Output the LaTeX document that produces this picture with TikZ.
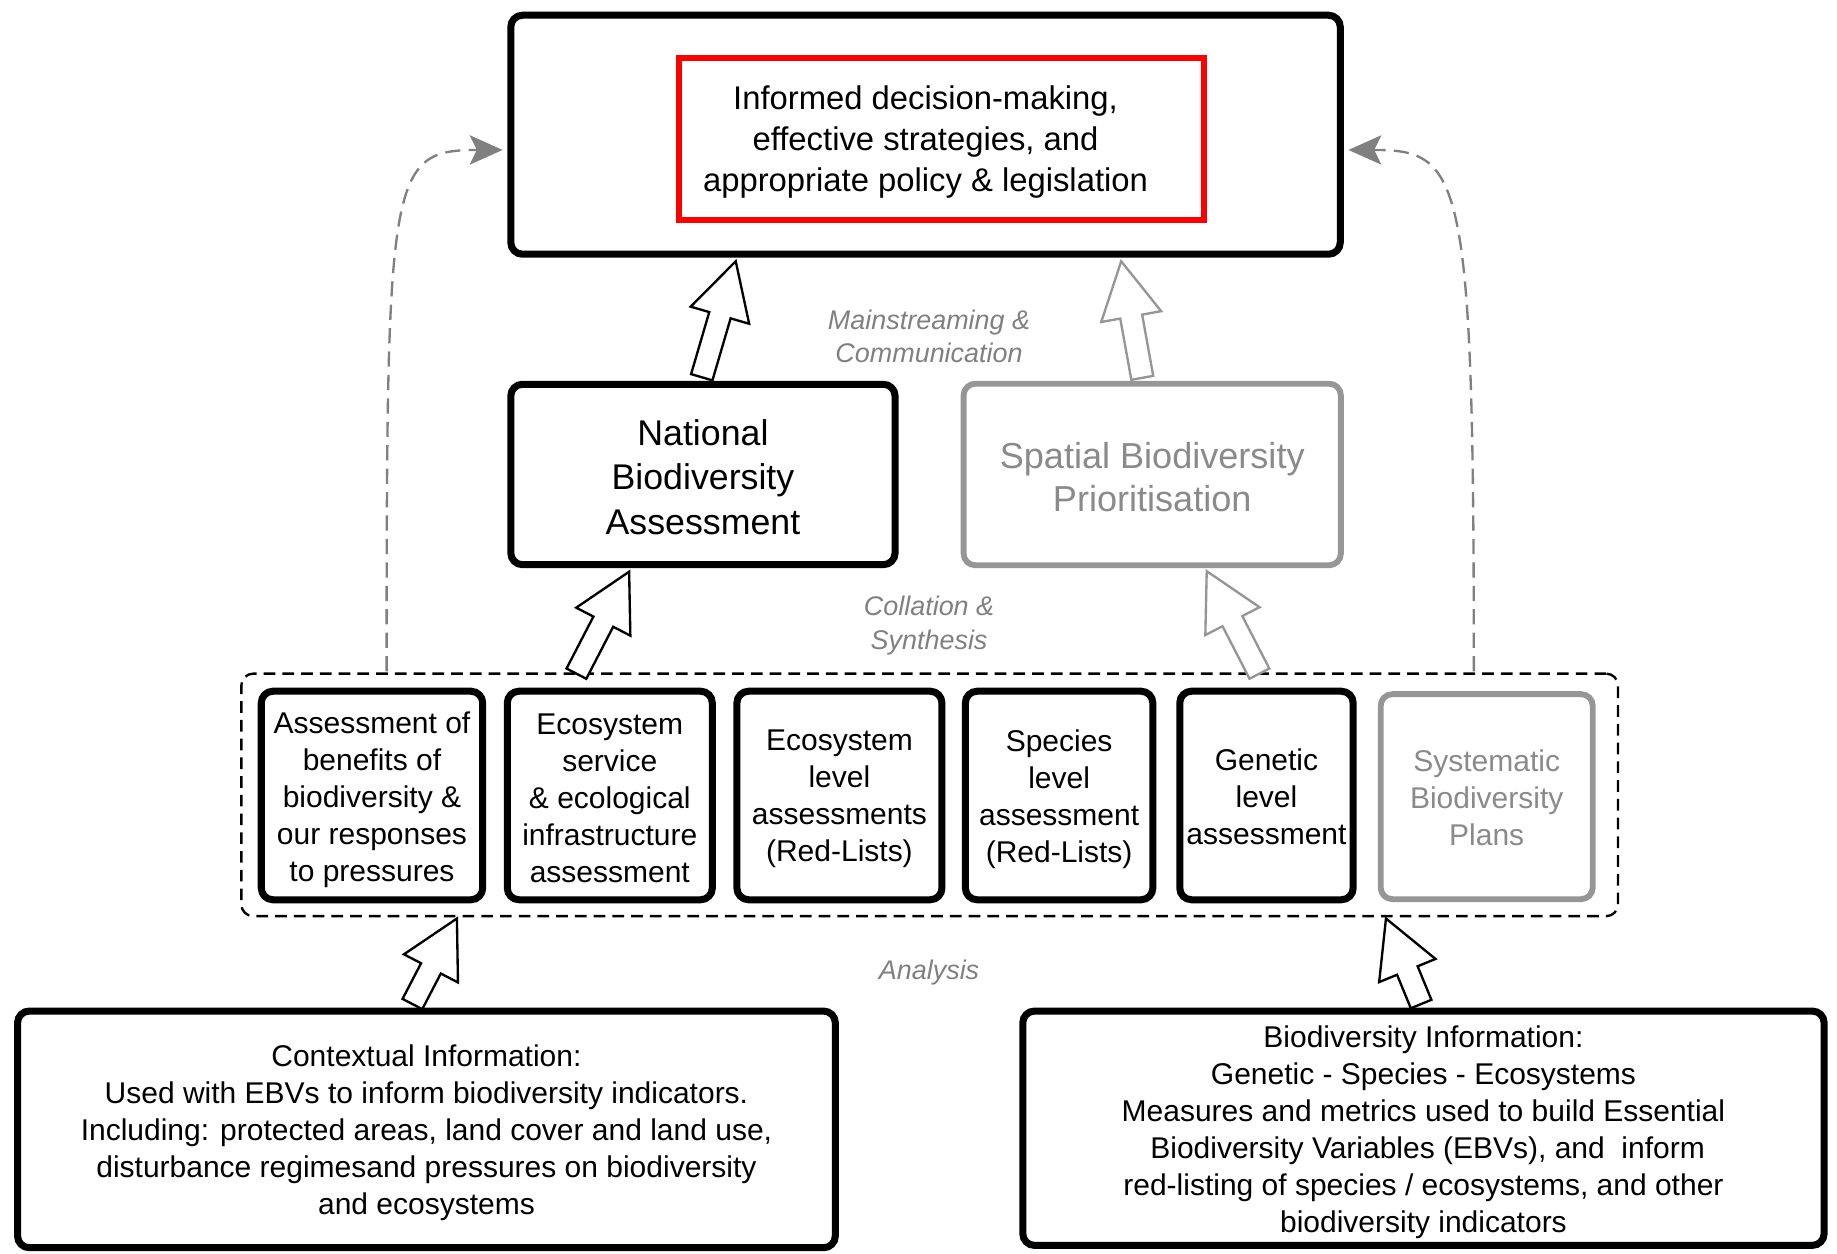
\documentclass[tikz,border=0pt]{standalone}
\usepackage{fontspec}
\setmainfont{Liberation Sans}
\usetikzlibrary{calc,arrows.meta}
\definecolor{boxgray}{RGB}{150,150,150}
\definecolor{txtgray}{RGB}{138,138,138}
\definecolor{lblgray}{RGB}{128,128,128}
\definecolor{goalred}{RGB}{255,0,0}

% hollow block arrow: #1 style, #2 base point, #3 tip point
\newcommand{\hollowarrow}[3]{%
  \path #2 coordinate (ha-b);
  \path #3 coordinate (ha-t);
  \path ($(ha-t)!48pt!(ha-b)$) coordinate (ha-h);
  \draw[#1] ($(ha-b)!9.5pt!90:(ha-t)$) -- ($(ha-h)!9.5pt!90:(ha-t)$) -- ($(ha-h)!26pt!90:(ha-t)$)
    -- (ha-t) -- ($(ha-h)!26pt!-90:(ha-t)$) -- ($(ha-h)!9.5pt!-90:(ha-t)$) -- ($(ha-b)!9.5pt!-90:(ha-t)$) -- cycle;
}

\begin{document}
\begin{tikzpicture}[x=1pt,y=-1pt,
  box/.style={draw=black, line width=6pt, rounded corners=10pt, inner sep=0pt},
  graybox/.style={box, draw=boxgray, line width=5pt},
  txt/.style={align=center, inner sep=0pt},
  gtxt/.style={txt, text=txtgray},
  smalltxt/.style={txt, font=\fontsize{25.6}{31.5}\selectfont},
  lbl/.style={font=\fontsize{23}{28.5}\selectfont\itshape, text=lblgray, align=center, inner sep=0pt},
  dashconn/.style={draw=lblgray, line width=2pt, dash pattern=on 13pt off 7pt,
     -{Stealth[length=28pt,width=25pt,inset=6pt,fill=lblgray]}},
  blk/.style={draw=black, line width=2pt, fill=white, line join=miter},
  gblk/.style={blk, draw=boxgray},
]
\useasboundingbox (0,0) rectangle (1568,1070);

% top goal box
\node[box, minimum width=708pt, minimum height=204pt] (top) at (790,115) {};
\node[draw=goalred, line width=5pt, inner sep=0pt, minimum width=448pt, minimum height=138pt] (red) at (803.5,118.5) {};
\node[txt, font=\fontsize{28}{35}\selectfont] (goal) at (790,121)
  {Informed decision-making,\\effective strategies, and\\appropriate policy \& legislation};

% middle row
\node[box, minimum width=328pt, minimum height=154pt] (nba) at (600,405) {};
\node[txt, font=\fontsize{30.5}{38}\selectfont] (nbat) at ([yshift=-2pt]nba.center)
  {National\\Biodiversity\\Assessment};
\node[graybox, minimum width=322pt, minimum height=155pt] (sbp) at (983.5,405) {};
\node[gtxt, font=\fontsize{30.8}{37}\selectfont] (sbpt) at ([yshift=-2pt]sbp.center)
  {Spatial Biodiversity\\Prioritisation};

% dashed group
\node[draw=black, line width=2pt, dash pattern=on 10pt off 6pt, rounded corners=10pt,
      minimum width=1175pt, minimum height=207pt, inner sep=0pt] (grp) at (793.5,678.5) {};

% assessment boxes
\node[box, minimum width=189pt, minimum height=178pt] (b1) at (317.5,679) {};
\node[smalltxt] (b1t) at ([yshift=-3.5pt]b1.center)
  {Assessment of\\benefits of\\biodiversity \&\\our responses\\to pressures};
\node[box, minimum width=175pt, minimum height=178pt] (b2) at (520.5,679) {};
\node[smalltxt] (b2t) at ([yshift=-2.5pt]b2.center)
  {Ecosystem\\service\\\& ecological\\infrastructure\\assessment};
\node[box, minimum width=175pt, minimum height=178pt] (b3) at (716.5,679) {};
\node[smalltxt] (b3t) at ([yshift=-3pt]b3.center)
  {Ecosystem\\level\\assessments\\(Red-Lists)};
\node[box, minimum width=160pt, minimum height=178pt] (b4) at (904,679) {};
\node[smalltxt] (b4t) at ([yshift=-3pt]b4.center)
  {Species\\level\\assessment\\(Red-Lists)};
\node[box, minimum width=148pt, minimum height=178pt] (b5) at (1081,679) {};
\node[smalltxt] (b5t) at ([yshift=-1pt]b5.center)
  {Genetic\\level\\assessment};
\node[graybox, minimum width=181pt, minimum height=175pt] (b6) at (1269,680) {};
\node[smalltxt, text=txtgray] (b6t) at ([yshift=-1pt]b6.center)
  {Systematic\\Biodiversity\\Plans};

% bottom info boxes
\node[box, minimum width=698pt, minimum height=202pt] (ctx) at (364,964) {};
\node[smalltxt] (ctxt) at ([yshift=-3pt]ctx.center)
  {Contextual Information:\\Used with EBVs to inform biodiversity indicators.\\Including: protected areas, land cover and land use,\\disturbance regimesand pressures on biodiversity\\and ecosystems};
\node[box, minimum width=684pt, minimum height=200pt] (bio) at (1215,963) {};
\node[smalltxt] (biot) at ([yshift=-3.5pt]bio.center)
  {Biodiversity Information:\\Genetic - Species - Ecosystems\\Measures and metrics used to build Essential\\\ Biodiversity Variables (EBVs), and\ \ inform\\red-listing of species / ecosystems, and other\\biodiversity indicators};

% labels
\node[lbl] (lmain) at (793,287) {Mainstreaming \&\\Communication};
\node[lbl] (lcoll) at (793,534) {Collation \&\\Synthesis};
\node[lbl] (lanal) at (793,830) {Analysis};

% hollow block arrows
\hollowarrow{blk}{([xshift=-1pt,yshift=3pt]nba.north)}{([xshift=-162pt,yshift=-3pt]top.south)}
\hollowarrow{gblk}{([xshift=-8.5pt,yshift=2.5pt]sbp.north)}{([xshift=167pt,yshift=-3pt]top.south)}
\hollowarrow{blk}{([xshift=-301.5pt,yshift=-1pt]grp.north)}{([xshift=-63pt,yshift=-3pt]nba.south)}
\hollowarrow{gblk}{([xshift=281.5pt,yshift=-1pt]grp.north)}{([xshift=46.5pt,yshift=-2.5pt]sbp.south)}
\hollowarrow{blk}{([xshift=-12pt,yshift=3pt]ctx.north)}{([xshift=-403.5pt,yshift=-1pt]grp.south)}
\hollowarrow{blk}{([xshift=-2pt,yshift=3pt]bio.north)}{([xshift=389.5pt,yshift=-1pt]grp.south)}

% dashed feedback connectors
\coordinate (dl) at ([xshift=125pt,yshift=1pt]grp.north west);
\coordinate (dr) at ([xshift=-124pt,yshift=1pt]grp.north east);
\coordinate (tl) at ([xshift=-4pt,yshift=-13pt]top.west);
\coordinate (tr) at ([xshift=4pt,yshift=-13pt]top.east);
\draw[dashconn] (dl) .. controls +(0,-425) and +(-97,0) .. (tl);
\draw[dashconn] (dr) .. controls +(0,-425) and +(97,0) .. (tr);
\end{tikzpicture}
\end{document}
